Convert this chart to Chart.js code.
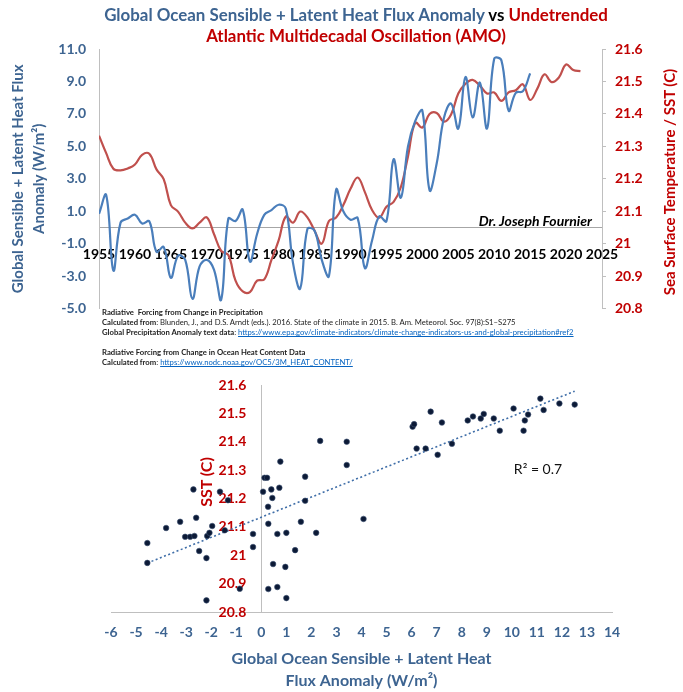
<!DOCTYPE html>
<html>
<head>
<meta charset="utf-8">
<script src="https://cdn.jsdelivr.net/npm/chart.js@4.4.1/dist/chart.umd.min.js"></script>
<style>
  body { margin: 0; background: #fff; font-family: Lato, sans-serif; }
  #wrap { position: relative; width: 683px; height: 692px; overflow: hidden; }
  canvas { position: absolute; left: 0; }
  #topChart { top: 0; }
  #botChart { top: 370px; }
  .txt { position: absolute; white-space: nowrap; z-index: 2; }
  .blue { color: #3d6491; }
  .red { color: #c00000; }
  #title { left: 0; width: 712px; top: 4px; text-align: center; font-size: 16.9px; font-weight: bold; line-height: 21px; }
  #notes { left: 102px; top: 307px; font-size: 7.7px; line-height: 10px; color: #222; }
  #notes u { color: #0563c1; }
  #sign { right: 91px; top: 212px; font-size: 14px; font-weight: bold; font-style: italic; line-height: 18px; }
  #rtitle { left: 519px; top: 172px; width: 300px; line-height: 20px; text-align: center; font-size: 15px; font-weight: bold; transform: rotate(-90deg); }
  #sst { left: 156px; top: 472px; width: 100px; line-height: 20px; text-align: center; font-size: 16px; font-weight: bold; transform: rotate(-90deg); }
  #r2 { left: 488px; top: 460px; width: 100px; line-height: 18px; text-align: center; font-size: 14px; color: #111; }
</style>
</head>
<body>
<div id="wrap">
  <canvas id="topChart" width="683" height="330"></canvas>
  <canvas id="botChart" width="683" height="322"></canvas>

  <div id="title" class="txt">
    <span class="blue">Global Ocean Sensible + Latent Heat Flux Anomaly</span> vs <span class="red">Undetrended</span><br>
    <span class="red">Atlantic Multidecadal Oscillation (AMO)</span>
  </div>
  <div id="notes" class="txt">
    <b>Radiative&nbsp; Forcing from Change in Precipitation</b><br>
    <b>Calculated from</b>: Blunden, J., and D.S. Arndt (eds.). 2016. State of the climate in 2015. B. Am. Meteorol. Soc. 97(8):S1–S275<br>
    <b>Global Precipitation Anomaly text data</b>: <u>https://www.epa.gov/climate-indicators/climate-change-indicators-us-and-global-precipitation#ref2</u><br>
    <br>
    <b>Radiative Forcing from Change in Ocean Heat Content Data</b><br>
    <b>Calculated from</b>: <u>https://www.nodc.noaa.gov/OC5/3M_HEAT_CONTENT/</u>
  </div>
  <div id="sign" class="txt">Dr. Joseph Fournier</div>
  <div id="rtitle" class="txt red">Sea Surface Temperature / SST (C)</div>
  <div id="sst" class="txt red">SST (C)</div>
  <div id="r2" class="txt">R² = 0.7</div>
</div>

<script>
// heat flux anomaly (W/m2), one value per year
const fluxYears = [1955, 1956, 1957, 1958, 1959, 1960, 1961, 1962, 1963, 1964,
  1965, 1966, 1967, 1968, 1969, 1970, 1971, 1972, 1973, 1974,
  1975, 1976, 1977, 1978, 1979, 1980, 1981, 1982, 1983, 1984,
  1985, 1986, 1987, 1988, 1989, 1990, 1991, 1992, 1993, 1994,
  1995, 1996, 1997, 1998, 1999, 2000, 2001, 2002, 2003, 2004,
  2005, 2006, 2007, 2008, 2009, 2010, 2011, 2012, 2013, 2014, 2015];
const fluxValues = [0.84, 2.0, -2.65, 0.3, 0.55, 0.78, 0.24, 0.38, -1.5, -1.2,
  -3.1, -1.75, -2.0, -4.4, -2.4, -2.0, -2.6, -4.45, 0.55, 0.4,
  1.1, -2.1, -0.4, 0.78, 1.07, 1.4, 1.15, -2.2, -3.76, -0.1,
  -0.2, -2.0, -3.0, 2.33, 1.0, 0.48, 0.58, -2.5, -0.8, 0.68,
  0.38, 4.2, 1.83, 5.0, 6.55, 7.2, 2.3, 3.96, 6.75, 7.64,
  6.1, 9.27, 6.78, 8.93, 6.1, 10.4, 10.3, 7.2, 8.3, 8.4, 9.5];

// undetrended AMO sea surface temperature (C)
const amoYears = [1955, 1956, 1957, 1958, 1959, 1960, 1961, 1962, 1963, 1964,
  1965, 1966, 1967, 1968, 1969, 1970, 1971, 1972, 1973, 1974,
  1975, 1976, 1977, 1978, 1979, 1980, 1981, 1982, 1983, 1984,
  1985, 1986, 1987, 1988, 1989, 1990, 1991, 1992, 1993, 1994,
  1995, 1996, 1997, 1998, 1999, 2000, 2001, 2002, 2003, 2004,
  2005, 2006, 2007, 2008, 2009, 2010, 2011, 2012, 2013, 2014,
  2015, 2016, 2017, 2018, 2019, 2020, 2021, 2022];
const amoValues = [21.333, 21.279, 21.231, 21.226, 21.232, 21.244, 21.274, 21.277, 21.229, 21.199,
  21.119, 21.099, 21.065, 21.047, 21.065, 21.081, 21.030, 20.978, 20.965, 20.886,
  20.853, 20.851, 20.886, 20.890, 20.950, 21.010, 21.084, 21.065, 21.099, 21.081,
  21.040, 21.000, 21.070, 21.081, 21.119, 21.169, 21.204, 21.159, 21.104, 21.080,
  21.114, 21.129, 21.174, 21.269, 21.373, 21.358, 21.400, 21.403, 21.376, 21.398,
  21.463, 21.493, 21.505, 21.487, 21.463, 21.466, 21.440, 21.466, 21.473, 21.491,
  21.443, 21.478, 21.522, 21.498, 21.512, 21.552, 21.535, 21.532];

// scatter: heat flux anomaly vs SST
const scatterX = [-4.55, -4.55, -3.80, -3.24, -3.04, -2.84, -2.67, -2.71, -2.60, -2.48,
  -2.19, -2.19, -2.16, -2.07, -1.96, -1.65, -1.46, -1.33, -0.86, -0.33,
  -0.33, 0.07, 0.13, 0.23, 0.27, 0.40, 0.44, 0.28, 0.28, 0.47,
  0.64, 0.64, 0.72, 0.76, 0.96, 1.00, 1.00, 1.35, 1.58, 1.75,
  1.75, 2.19, 2.35, 3.41, 3.41, 4.08, 6.04, 6.10, 6.20, 6.56,
  6.76, 7.04, 7.21, 7.61, 8.24, 8.45, 8.76, 8.88, 9.28, 9.52,
  10.07, 10.47, 10.52, 10.65, 11.14, 11.27, 11.90, 12.51];
const scatterY = [21.043, 20.973, 21.096, 21.118, 21.065, 21.065, 21.068, 21.232, 21.132, 21.015,
  20.990, 20.841, 21.068, 21.079, 21.103, 21.224, 21.088, 21.194, 20.882, 21.075,
  21.029, 21.224, 21.273, 21.273, 21.171, 21.232, 21.202, 21.111, 20.881, 20.969,
  21.075, 20.888, 21.238, 21.330, 20.959, 20.849, 21.079, 21.018, 21.118, 21.277,
  21.192, 21.079, 21.403, 21.400, 21.318, 21.128, 21.453, 21.462, 21.376, 21.376,
  21.506, 21.354, 21.468, 21.393, 21.475, 21.489, 21.482, 21.498, 21.482, 21.439,
  21.517, 21.439, 21.475, 21.496, 21.552, 21.512, 21.535, 21.531];

const yearRange = [1955, 2025];
const fluxRange = [-5, 11];
const sstRange = [20.8, 21.6];
const scatterXRange = [-6, 14];

const blueText = '#3d6491';
const redText = '#c00000';
const axisGray = '#bfbfbf';
const tickFont = { family: 'Lato', size: 14, weight: 'bold' };
const sstLabel = v => String(Math.round(v * 10) / 10);

// least squares line like the excel trendline
function linFit(xs, ys) {
  let n = xs.length, mx = 0, my = 0;
  for (let i = 0; i < n; i++) { mx += xs[i]; my += ys[i]; }
  mx /= n; my /= n;
  let sxy = 0, sxx = 0;
  for (let i = 0; i < n; i++) {
    sxy += (xs[i] - mx) * (ys[i] - my);
    sxx += (xs[i] - mx) * (xs[i] - mx);
  }
  let b = sxy / sxx;
  return { a: my - b * mx, b: b };
}

new Chart(document.getElementById('topChart'), {
  type: 'line',
  data: {
    datasets: [{
      label: 'Heat flux anomaly',
      data: fluxYears.map((yr, i) => ({ x: yr, y: fluxValues[i] })),
      borderColor: '#4a7ebb',
      borderWidth: 2.2,
      pointRadius: 0,
      tension: 0.4,
      yAxisID: 'yL'
    }, {
      label: 'AMO',
      data: amoYears.map((yr, i) => ({ x: yr, y: amoValues[i] })),
      borderColor: '#c0504d',
      borderWidth: 2.2,
      pointRadius: 0,
      tension: 0.4,
      yAxisID: 'yR'
    }]
  },
  options: {
    responsive: false,
    animation: false,
    layout: { padding: { top: 49, bottom: 13, left: 0, right: 0 } },
    plugins: { legend: { display: false }, tooltip: { enabled: false } },
    scales: {
      x: {
        type: 'linear',
        min: yearRange[0], max: yearRange[1],
        position: { yL: 0 },
        afterFit: s => { s.height = 0; },
        grid: { display: false, drawTicks: false },
        border: { color: '#a6a6a6' },
        ticks: { stepSize: 5, padding: 19, autoSkip: false, maxRotation: 0, color: '#000', font: tickFont, callback: v => String(v) }
      },
      yL: {
        position: 'left',
        min: fluxRange[0], max: fluxRange[1],
        afterFit: s => { s.width = 99; },
        grid: { display: false, drawTicks: false },
        border: { color: axisGray },
        ticks: { stepSize: 2, padding: 13, color: blueText, font: tickFont, callback: v => v.toFixed(1) },
        title: {
          display: true,
          text: ['Global Sensible + Latent Heat Flux', 'Anomaly (W/m²)'],
          color: blueText,
          font: { family: 'Lato', size: 15, weight: 'bold', lineHeight: 1.45 },
          padding: { top: 7, bottom: 0 }
        }
      },
      yR: {
        position: 'right',
        min: sstRange[0], max: sstRange[1],
        afterFit: s => { s.width = 81; },
        grid: { drawOnChartArea: false, drawTicks: true, tickLength: 4, color: axisGray },
        border: { color: axisGray },
        ticks: { stepSize: 0.1, padding: 9, color: redText, font: tickFont, callback: sstLabel }
      }
    }
  }
});

const fit = linFit(scatterX, scatterY);
const xLo = Math.min(...scatterX), xHi = Math.max(...scatterX);

new Chart(document.getElementById('botChart'), {
  type: 'scatter',
  data: {
    datasets: [{
      type: 'line',
      label: 'Trend',
      data: [{ x: xLo, y: fit.a + fit.b * xLo }, { x: xHi, y: fit.a + fit.b * xHi }],
      borderColor: '#3f6ea8',
      borderWidth: 1.6,
      borderDash: [2, 2.5],
      pointRadius: 0,
      fill: false,
      order: 2
    }, {
      label: 'Flux vs SST',
      data: scatterX.map((x, i) => ({ x: x, y: scatterY[i] })),
      backgroundColor: '#0c1a36',
      borderColor: '#3b4f70',
      borderWidth: 0.6,
      pointRadius: 2.8,
      order: 1
    }]
  },
  options: {
    responsive: false,
    animation: false,
    layout: { padding: { top: 15, left: 111, right: 71, bottom: 0 } },
    plugins: { legend: { display: false }, tooltip: { enabled: false } },
    scales: {
      x: {
        type: 'linear',
        position: 'bottom',
        min: scatterXRange[0], max: scatterXRange[1],
        afterFit: s => { s.height = 80; },
        grid: { display: false, drawTicks: false },
        border: { color: axisGray },
        ticks: { stepSize: 1, padding: 12, autoSkip: false, maxRotation: 0, color: blueText, font: tickFont, callback: v => String(v) },
        title: {
          display: true,
          text: ['Global Ocean Sensible + Latent Heat', 'Flux Anomaly (W/m²)'],
          color: blueText,
          font: { family: 'Lato', size: 16, weight: 'bold', lineHeight: 1.375 },
          padding: 0
        }
      },
      y: {
        axis: 'y',
        min: sstRange[0], max: sstRange[1],
        position: { x: 0 },
        afterFit: s => { s.width = 0; },
        grid: { display: false },
        border: { color: axisGray },
        ticks: { display: false }
      },
      yLab: {
        axis: 'y',
        min: sstRange[0], max: sstRange[1],
        position: { x: -0.6 },
        afterFit: s => { s.width = 0; },
        grid: { display: false, drawTicks: false },
        border: { display: false },
        ticks: { stepSize: 0.1, color: redText, font: tickFont, callback: sstLabel }
      }
    }
  }
});
</script>
</body>
</html>
